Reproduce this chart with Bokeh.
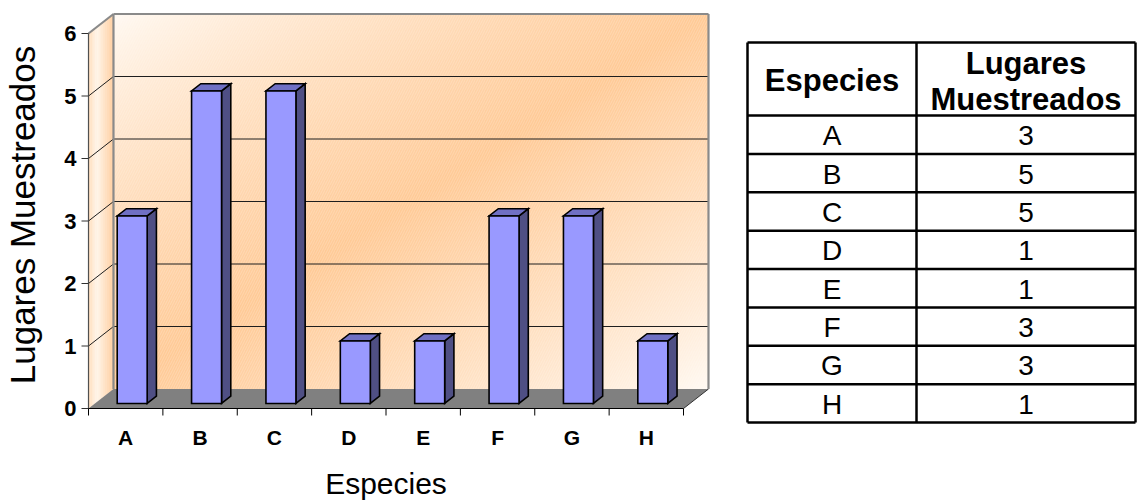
import numpy as np
from bokeh.plotting import figure
from bokeh.models import Range1d
from bokeh.core.properties import value
from bokeh.embed import file_html
from bokeh.resources import INLINE

# ---------------- data ----------------
categories = ["A", "B", "C", "D", "E", "F", "G", "H"]
lugares = [3, 5, 5, 1, 1, 3, 3, 1]
y_ticks = [0, 1, 2, 3, 4, 5, 6]
x_title = "Especies"
y_title = "Lugares Muestreados"
table_headers = ["Especies", "Lugares Muestreados"]

# ---------------- layout / style constants ----------------
FONT = value("Liberation Sans")
N = len(categories)
YMAX = max(y_ticks)
FIG_W, FIG_H = 1140, 500
PAGE = 0                      # page offset of the figure
X0PX, Y0PX = 88, 408          # page position of the chart origin (front-left-bottom)
XU, YU = 74.375, 62.5         # pixels per data unit
DX, DY = 0.336, 0.312         # depth of the 3-D box in data units
FRONT, BACK = 0.26, 0.63      # depth fractions of bar front / back faces
BAR_W = 0.403


def px_x(px):   # horizontal pixel distance -> data units
    return px / XU


def px_y(py):   # vertical pixel distance -> data units
    return py / YU


p = figure(width=FIG_W, height=FIG_H, title=None,
           x_range=Range1d((PAGE - X0PX) / XU, (PAGE + FIG_W - X0PX) / XU),
           y_range=Range1d((Y0PX - PAGE - FIG_H) / YU, (Y0PX - PAGE) / YU),
           output_backend="svg", toolbar_location=None, min_border=0,
           x_axis_location=None, y_axis_location=None,
           background_fill_color="white", border_fill_color="white", outline_line_color=None)
p.xgrid.visible = False
p.ygrid.visible = False
p.extra_x_ranges = {"tab": Range1d(PAGE, PAGE + FIG_W)}
p.extra_y_ranges = {"tab": Range1d(PAGE + FIG_H, PAGE)}

# ---- back wall gradient (white -> orange -> white along the diagonal) ----
H, W = 160, 260
u = np.linspace(0, 1, W)[None, :]
vdown = 1 - np.linspace(0, 1, H)[:, None]
t = (u + vdown) / 2
s = np.clip(1 - 2 * np.abs(t - 0.5), 0, 1) ** 0.8
light = np.array([255, 250, 244])
orange = np.array([255, 202, 150])
img = np.empty((H, W), dtype=np.uint32)
view = img.view(dtype=np.uint8).reshape((H, W, 4))
for k in range(3):
    view[:, :, k] = (light[k] + (orange[k] - light[k]) * s).astype(np.uint8)
view[:, :, 3] = 255
p.image_rgba(image=[img], x=DX, y=DY, dw=N, dh=YMAX)
p.quad(left=DX, right=N + DX, bottom=DY, top=YMAX + DY, fill_alpha=0, line_color=None,
       hatch_pattern="/", hatch_color="white", hatch_alpha=0.35, hatch_scale=5, hatch_weight=0.6)

gl = [v for v in y_ticks if 0 < v < YMAX]
p.segment(x0=[DX] * len(gl), y0=[v + DY for v in gl], x1=[N + DX] * len(gl), y1=[v + DY for v in gl],
          line_color="#1e1e1e", line_width=1)

# ---- left wall (strips to fake gradient) ----
nst = 14
fr = np.linspace(0, 1, nst + 1)
xs, ys, cols = [], [], []
for a, b in zip(fr[:-1], fr[1:]):
    m = (a + b) / 2
    sv = np.interp(m, [0, 0.35, 1], [0.6, 0.1, 0.9])
    c = (light + (orange - light) * sv).astype(int)
    cols.append("#%02x%02x%02x" % tuple(c))
    xs.append([a * DX, b * DX, b * DX, a * DX])
    ys.append([a * DY, b * DY, YMAX + b * DY, YMAX + a * DY])
p.patches(xs=xs, ys=ys, fill_color=cols, line_color=cols, line_width=0.5)
p.segment(x0=[0] * len(gl), y0=gl, x1=[DX] * len(gl), y1=[v + DY for v in gl],
          line_color="#1e1e1e", line_width=1)

# ---- floor ----
p.patch(x=[0, N, N + DX, DX], y=[0, 0, DY, DY], fill_color="#808080", line_color=None)
p.segment(x0=[N], y0=[0], x1=[N + DX], y1=[DY], line_color="#333333", line_width=1)

# ---- wall outlines ----
p.segment(x0=[DX, N + DX, 0, DX], y0=[YMAX + DY, DY, YMAX, DY],
          x1=[N + DX, N + DX, DX, DX], y1=[YMAX + DY, YMAX + DY, YMAX + DY, YMAX + DY],
          line_color="#8a8a8a", line_width=2.2)

# ---- 3-D bars ----
vals = np.array(lugares, dtype=float)
cx = np.arange(N) + 0.5
x0 = cx - BAR_W / 2 + FRONT * DX
x1 = cx + BAR_W / 2 + FRONT * DX
yb = FRONT * DY
yt = vals + FRONT * DY
ddx = (BACK - FRONT) * DX
ddy = (BACK - FRONT) * DY
side_xs = [[a, a + ddx, a + ddx, a] for a in x1]
side_ys = [[yb, yb + ddy, h + ddy, h] for h in yt]
top_xs = [[a, b, b + ddx, a + ddx] for a, b in zip(x0, x1)]
top_ys = [[h, h, h + ddy, h + ddy] for h in yt]
p.patches(xs=side_xs, ys=side_ys, fill_color="#4f4f84", line_color="black", line_width=1.6, line_join="miter")
p.patches(xs=top_xs, ys=top_ys, fill_color="#7070c4", line_color="black", line_width=1.6, line_join="miter")
p.vbar(x=cx + FRONT * DX, width=BAR_W, bottom=yb, top=yt, fill_color="#9999ff",
       line_color="black", line_width=1.6, line_join="miter")

# ---- axes (drawn in data coordinates) ----
# value axis
p.segment(x0=[0], y0=[0], x1=[0], y1=[YMAX], line_color="#505050", line_width=1.2)
p.segment(x0=[-px_x(7)] * len(y_ticks), y0=y_ticks, x1=[0] * len(y_ticks), y1=y_ticks,
          line_color="#303030", line_width=1)
p.text(x=[-px_x(12)] * len(y_ticks), y=y_ticks, text=[str(v) for v in y_ticks],
       text_font=FONT, text_font_size="22px", text_font_style="bold",
       text_align="right", text_baseline="middle", text_color="black")
p.text(x=[-px_x(66)], y=[YMAX / 2 + px_y(6)], text=[y_title], angle=np.pi / 2,
       text_font=FONT, text_font_size="35px", text_align="center", text_baseline="middle",
       text_color="black")
# category axis
p.segment(x0=[0], y0=[0], x1=[N], y1=[0], line_color="black", line_width=1.2)
bnd = list(range(N + 1))
p.segment(x0=bnd, y0=[0] * len(bnd), x1=bnd, y1=[-px_y(7)] * len(bnd), line_color="black", line_width=1)
p.text(x=cx, y=[-px_y(29)] * N, text=categories,
       text_font=FONT, text_font_size="21px", text_font_style="bold",
       text_align="center", text_baseline="middle", text_color="black")
p.text(x=[N / 2], y=[-px_y(75)], text=[x_title],
       text_font=FONT, text_font_size="30px", text_align="center", text_baseline="middle",
       text_color="black")

# ---------------- table (page-pixel coordinates via extra ranges) ----------------
L, M, R = 747, 916, 1135
TOP, HB = 42, 115
RH = 38.375
rows_y = [HB + k * RH for k in range(N + 1)]
hy = [TOP] + rows_y
p.segment(x0=[L] * len(hy), y0=hy, x1=[R] * len(hy), y1=hy, line_color="black", line_width=2.5,
          x_range_name="tab", y_range_name="tab")
p.segment(x0=[L, M, R], y0=[TOP] * 3, x1=[L, M, R], y1=[rows_y[-1]] * 3, line_color="black",
          line_width=2.5, x_range_name="tab", y_range_name="tab")

c1, c2 = (L + M) / 2, (M + R) / 2
h2 = table_headers[1].split(" ")
p.text(x=[c1, c2, c2], y=[80, 62.5, 99], text=[table_headers[0]] + h2,
       text_font=FONT, text_font_size="31px", text_font_style="bold",
       text_align="center", text_baseline="middle", text_color="black",
       x_range_name="tab", y_range_name="tab")
ry = [HB + (k + 0.5) * RH + 1 for k in range(N)]
p.text(x=[c1] * N, y=ry, text=categories, text_font=FONT, text_font_size="28px",
       text_align="center", text_baseline="middle", text_color="black",
       x_range_name="tab", y_range_name="tab")
p.text(x=[c2] * N, y=ry, text=[str(v) for v in lugares], text_font=FONT, text_font_size="28px",
       text_align="center", text_baseline="middle", text_color="black",
       x_range_name="tab", y_range_name="tab")

open("out.html", "w").write(file_html(p, INLINE))
